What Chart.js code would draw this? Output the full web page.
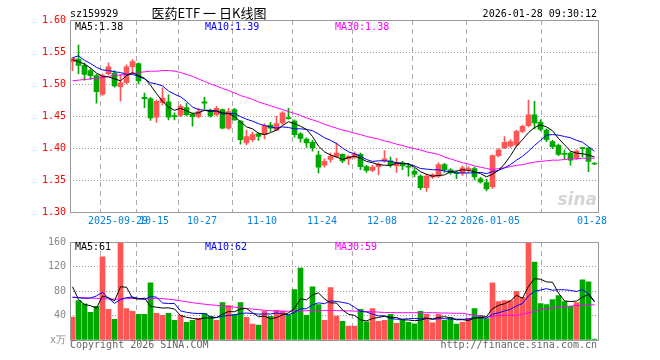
<!DOCTYPE html>
<html>
<head>
<meta charset="utf-8">
<script src="https://cdn.jsdelivr.net/npm/chart.js@4"></script>
<style>
html, body { margin: 0; padding: 0; background: #fff; }
#wrap { position: relative; width: 660px; height: 360px; }
#kline { position: absolute; left: 0; top: 0; }
#volume { position: absolute; left: 0; top: 232px; }
</style>
</head>
<body>
<div id="wrap">
  <canvas id="kline" width="660" height="232"></canvas>
  <canvas id="volume" width="660" height="128"></canvas>
</div>
<script>
// trading days shown on the daily K chart
var days = ["2025-09-17","2025-09-18","2025-09-19","2025-09-22","2025-09-23","2025-09-24","2025-09-25","2025-09-26","2025-09-29","2025-09-30",
  "2025-10-09","2025-10-10","2025-10-13","2025-10-14","2025-10-15","2025-10-16","2025-10-17","2025-10-20","2025-10-21","2025-10-22","2025-10-23","2025-10-24","2025-10-27","2025-10-28","2025-10-29","2025-10-30","2025-10-31",
  "2025-11-03","2025-11-04","2025-11-05","2025-11-06","2025-11-07","2025-11-10","2025-11-11","2025-11-12","2025-11-13","2025-11-14","2025-11-17","2025-11-18","2025-11-19","2025-11-20","2025-11-21","2025-11-24","2025-11-25","2025-11-26","2025-11-27","2025-11-28",
  "2025-12-01","2025-12-02","2025-12-03","2025-12-04","2025-12-05","2025-12-08","2025-12-09","2025-12-10","2025-12-11","2025-12-12","2025-12-15","2025-12-16","2025-12-17","2025-12-18","2025-12-19","2025-12-22","2025-12-23","2025-12-24","2025-12-25","2025-12-26","2025-12-29","2025-12-30","2025-12-31",
  "2026-01-05","2026-01-06","2026-01-07","2026-01-08","2026-01-09","2026-01-12","2026-01-13","2026-01-14","2026-01-15","2026-01-16","2026-01-19","2026-01-20","2026-01-21","2026-01-22","2026-01-23","2026-01-26","2026-01-27","2026-01-28"];

var open = [1.535,1.539,1.529,1.521,1.513,1.484,1.516,1.517,1.496,1.502,1.527,1.532,1.479,1.477,1.448,1.471,1.472,1.450,1.451,1.463,
  1.453,1.449,1.472,1.459,1.452,1.460,1.431,1.460,1.442,1.408,1.413,1.422,1.421,1.436,1.428,1.439,1.447,1.442,1.422,1.414,
  1.409,1.389,1.373,1.382,1.387,1.390,1.383,1.386,1.390,1.371,1.365,1.371,1.380,1.380,1.372,1.377,1.3705,1.364,1.356,1.338,
  1.355,1.356,1.374,1.366,1.3605,1.361,1.366,1.368,1.352,1.346,1.339,1.388,1.400,1.403,1.405,1.426,1.435,1.452,1.440,1.428,
  1.410,1.404,1.3905,1.392,1.384,1.3995,1.400,1.376];
var high = [1.541,1.561,1.533,1.524,1.515,1.516,1.533,1.521,1.515,1.530,1.538,1.533,1.486,1.479,1.475,1.494,1.483,1.455,1.468,1.470,
  1.455,1.462,1.479,1.461,1.465,1.461,1.462,1.462,1.443,1.428,1.425,1.424,1.438,1.440,1.450,1.457,1.462,1.444,1.424,1.416,
  1.412,1.395,1.383,1.392,1.408,1.391,1.388,1.394,1.392,1.373,1.373,1.377,1.396,1.386,1.384,1.379,1.376,1.368,1.358,1.359,
  1.360,1.377,1.376,1.368,1.364,1.372,1.371,1.370,1.354,1.351,1.389,1.399,1.418,1.413,1.428,1.436,1.475,1.473,1.444,1.430,
  1.412,1.406,1.397,1.394,1.397,1.401,1.401,1.377];
var low = [1.521,1.516,1.506,1.507,1.470,1.482,1.514,1.495,1.473,1.500,1.516,1.500,1.463,1.443,1.440,1.467,1.444,1.444,1.449,1.450,
  1.434,1.447,1.461,1.448,1.450,1.430,1.429,1.443,1.406,1.405,1.410,1.412,1.414,1.426,1.427,1.437,1.445,1.417,1.409,1.401,
  1.395,1.361,1.370,1.378,1.385,1.377,1.374,1.383,1.366,1.362,1.363,1.358,1.378,1.370,1.362,1.366,1.356,1.355,1.335,1.332,
  1.352,1.354,1.362,1.359,1.352,1.357,1.362,1.350,1.345,1.333,1.337,1.386,1.399,1.401,1.403,1.424,1.433,1.430,1.427,1.410,
  1.399,1.388,1.382,1.373,1.382,1.386,1.363,1.374];
var close = [1.540,1.529,1.515,1.513,1.488,1.513,1.527,1.497,1.502,1.527,1.535,1.505,1.477,1.447,1.473,1.478,1.448,1.449,1.465,1.452,
  1.449,1.457,1.470,1.450,1.462,1.431,1.457,1.444,1.413,1.418,1.421,1.418,1.435,1.431,1.438,1.455,1.446,1.421,1.415,1.408,
  1.400,1.370,1.379,1.387,1.392,1.380,1.387,1.391,1.371,1.365,1.370,1.375,1.383,1.373,1.377,1.372,1.370,1.359,1.338,1.356,
  1.358,1.374,1.366,1.361,1.360,1.369,1.368,1.355,1.347,1.336,1.388,1.397,1.409,1.410,1.426,1.434,1.452,1.439,1.429,1.413,
  1.402,1.390,1.390,1.381,1.395,1.399,1.379,1.375];

var ma5 = [1.538,1.535,1.531,1.525,1.517,1.512,1.511,1.508,1.505,1.513,1.518,1.513,1.509,1.498,1.485,1.473,1.464,1.459,1.462,1.458,
  1.454,1.455,1.459,1.457,1.458,1.455,1.454,1.449,1.441,1.433,1.430,1.423,1.421,1.424,1.428,1.435,1.441,1.438,1.434,1.429,
  1.418,1.403,1.394,1.389,1.386,1.382,1.385,1.387,1.384,1.379,1.377,1.374,1.373,1.373,1.376,1.376,1.375,1.370,1.363,1.359,
  1.356,1.357,1.358,1.363,1.364,1.366,1.365,1.363,1.360,1.355,1.359,1.365,1.375,1.388,1.403,1.413,1.424,1.432,1.436,1.433,
  1.427,1.415,1.405,1.395,1.392,1.391,1.389,1.386];
var ma10 = [1.541,1.544,1.537,1.532,1.526,1.522,1.521,1.519,1.518,1.515,1.515,1.512,1.508,1.502,1.500,1.497,1.489,1.484,1.480,1.473,
  1.464,1.460,1.459,1.459,1.458,1.453,1.454,1.454,1.449,1.445,1.442,1.438,1.435,1.433,1.431,1.433,1.432,1.430,1.430,1.429,
  1.427,1.422,1.416,1.412,1.407,1.400,1.394,1.391,1.387,1.382,1.379,1.380,1.380,1.379,1.377,1.376,1.375,1.372,1.368,1.367,
  1.366,1.366,1.364,1.363,1.361,1.361,1.361,1.361,1.362,1.360,1.363,1.365,1.369,1.374,1.381,1.387,1.395,1.404,1.412,1.420,
  1.421,1.420,1.418,1.416,1.412,1.409,1.402,1.395];
var ma30 = [1.505,1.506,1.507,1.508,1.509,1.510,1.512,1.513,1.514,1.515,1.516,1.518,1.519,1.520,1.520,1.521,1.521,1.520,1.518,1.515,
  1.512,1.508,1.504,1.500,1.497,1.493,1.490,1.486,1.482,1.479,1.476,1.472,1.469,1.466,1.463,1.460,1.457,1.454,1.451,1.447,
  1.444,1.441,1.437,1.434,1.431,1.428,1.426,1.423,1.421,1.418,1.416,1.414,1.411,1.409,1.406,1.404,1.401,1.399,1.397,1.394,
  1.392,1.390,1.386,1.383,1.380,1.377,1.375,1.372,1.370,1.368,1.366,1.368,1.369,1.371,1.373,1.374,1.376,1.378,1.379,1.380,
  1.381,1.381,1.382,1.383,1.383,1.384,1.384,1.384];

// volume, in 10k lots
var vol = [37.5,64.4,59,45,54.8,135.8,50,33.8,160,51.5,46.7,41.9,41.9,93.4,43.5,40.3,43.5,32.2,40.3,29,
  32.2,35.4,43.5,38.7,32.2,61.2,56.4,41.9,61.2,37,25.8,24.2,46.7,38.7,48.3,46.7,41,82.2,117.6,40.3,
  87,58,32.2,85.4,39.2,30.6,22.6,22.6,50,29.5,51.5,30.6,32.2,41.9,27.4,32.7,29,26.3,46.7,41.9,
  27.9,41.9,32.2,37,25.8,29,35.4,51.5,40.3,35,93.4,62.8,64.4,64.4,79.4,69.8,159,127.3,59.6,58,
  66,72.5,62.8,54.8,61.2,98.3,95,1.6];
var vma5 = [87,66,58,56,52.1,71.8,68.9,63.9,86.9,86.2,68.4,66.8,68.4,55.1,53.5,52.2,52.5,50.6,40,37.1,
  35.4,33.8,36.1,35.8,36.4,42.2,46.4,46.1,50.6,51.5,44.5,38,39,34.5,36.7,40.9,44.3,51.4,67.2,65.6,
  73.6,77,67,60.6,60.4,49.1,42,40.1,33,31.1,35.2,36.8,38.8,37.1,36.7,33,32.6,31.5,32.4,35.3,
  34.4,36.9,38.1,36.2,33,33.2,31.9,35.7,36.4,38.2,51.1,56.6,59.2,64,72.9,68.2,87.6,100.2,99.2,94.9,
  94.2,76.7,63.8,62.8,63.5,69.9,74.4,62.2];
var vma10 = [69.8,69,68,68.5,72,78,68,60,66,69.2,70.1,67.9,66.1,71,69.9,60.3,59.7,59.5,47.5,45.3,
  43.8,43.2,43.3,37.9,36.7,38.8,40.1,41.1,43.2,44,43.3,42.2,42.5,42.5,44.1,42.7,41.2,45.2,50.8,51.2,
  57.3,60.7,59.2,63.9,63,61.4,59.5,53.6,46.8,45.7,42.2,39.4,39.4,35.1,33.9,34.1,34.7,35.1,34.8,36,
  33.7,34.8,34.8,34.3,34.1,33.8,34.4,36.9,36.3,35.6,42.2,44.2,47.5,50.2,55.6,59.6,72.1,79.7,81.6,83.9,
  81.2,82.1,82,81,79.2,82.1,75.6,63];
var vma30 = [69.8,69.5,69,68.5,68,67.5,67,66.5,67,67.5,68,67.5,67,67.5,68,67.5,66.5,65.5,64,62.5,
  61,59.5,58.5,57.5,56.5,55.5,54.5,53.7,52.5,51.5,50.5,49.5,48.5,48,47.5,47.2,47,47,47.5,47.8,
  48.2,48.3,48.3,48.3,48,47.8,47.5,47.2,47,46.5,46,45.5,45,44.8,44.6,44.6,44.6,44.6,44.6,44.6,
  44.5,44.3,44,43.8,43.6,43.5,42,40.3,39,37.6,38.5,40.3,40.3,40.3,40.3,42,44.6,46.5,50,51,
  52,53.7,54.5,55.3,56.4,56.8,57.2,57.5];

var priceTicks = [1.30, 1.35, 1.40, 1.45, 1.50, 1.55, 1.60];
var volTicks = [0, 40, 80, 120, 160];
var dateTicks = ["2025-09-29","2025-10-15","2025-10-27","2025-11-10","2025-11-24","2025-12-08","2025-12-22","2026-01-05","2026-01-28"];
var dateText = ["2025-09-29","10-15","10-27","11-10","11-24","12-08","12-22","2026-01-05","01-28"];
var maNow = ["1.38", "1.39", "1.38"];
var vmaNow = ["61", "62", "59"];

var RED = "#ff5555";
var GREEN = "#00a800";
var MONO = "DejaVu Sans Mono";

Chart.defaults.font.family = MONO;
Chart.defaults.font.size = 10;

var half = 2.5 / 6; // half a candle, in days
var xMin = -half;
var xMax = days.length - 1 + 0.5;

function isUp(i) { return close[i] >= open[i]; }
function candleColor(ctx) { return isUp(ctx.dataIndex) ? RED : GREEN; }
function pts(arr) { return arr.map(function (v, i) { return { x: i, y: v }; }); }

function maLine(arr, color) {
  return { type: "line", data: pts(arr), borderColor: color, borderWidth: 1,
    pointRadius: 0, tension: 0, fill: false, order: 0 };
}

function xAxis(showLabels) {
  return {
    type: "linear", min: xMin, max: xMax, offset: false,
    afterBuildTicks: function (s) {
      s.ticks = dateTicks.map(function (d) { return { value: days.indexOf(d) - half }; });
    },
    afterFit: function (s) { s.height = 20; },
    grid: { color: "#aaaaaa", drawTicks: false },
    border: { display: false, dash: [5, 4] },
    ticks: { display: showLabels, autoSkip: false, maxRotation: 0, minRotation: 0,
      padding: 3, color: "#0a80d8",
      callback: function (v, i) { return dateText[i]; } }
  };
}

var frame = {
  id: "frame",
  afterDatasetsDraw: function (chart) {
    var a = chart.chartArea, c = chart.ctx;
    c.save();
    c.strokeStyle = "#999999";
    c.lineWidth = 1;
    c.strokeRect(Math.round(a.left) + 0.5, Math.round(a.top) + 0.5,
      Math.round(a.right - a.left), Math.round(a.bottom - a.top));
    c.restore();
  }
};

var kTexts = {
  id: "kTexts",
  beforeDatasetsDraw: function (chart) {
    // faint sina watermark, bottom right of the price panel
    var c = chart.ctx;
    c.save();
    c.font = "italic bold 17px 'DejaVu Sans'";
    c.fillStyle = "rgba(150,150,150,0.4)";
    c.textAlign = "right";
    c.fillText("sina", 597, 205);
    c.restore();
  },
  afterDraw: function (chart) {
    var c = chart.ctx;
    c.save();
    c.textBaseline = "alphabetic";
    c.font = "10px '" + MONO + "'";
    c.fillStyle = "#000";
    c.textAlign = "left";
    c.fillText("sz159929", 70, 17);
    c.textAlign = "right";
    c.fillText("2026-01-28 09:30:12", 597, 17);
    c.font = "13px 'Noto Sans CJK SC'";
    c.textAlign = "center";
    c.fillText("医药ETF 一 日K线图", 209, 17.5);
    c.font = "10px '" + MONO + "'";
    c.textAlign = "left";
    c.fillStyle = "#000";
    c.fillText("MA5:" + maNow[0], 75, 29.5);
    c.fillStyle = "#0000ff";
    c.fillText("MA10:" + maNow[1], 205, 29.5);
    c.fillStyle = "#ff00ff";
    c.fillText("MA30:" + maNow[2], 335, 29.5);
    c.restore();
  }
};

var vTexts = {
  id: "vTexts",
  afterDraw: function (chart) {
    var c = chart.ctx;
    c.save();
    c.textBaseline = "alphabetic";
    c.font = "10px '" + MONO + "'";
    c.textAlign = "left";
    c.fillStyle = "#000";
    c.fillText("MA5:" + vmaNow[0], 75, 18);
    c.fillStyle = "#0000ff";
    c.fillText("MA10:" + vmaNow[1], 205, 18);
    c.fillStyle = "#ff00ff";
    c.fillText("MA30:" + vmaNow[2], 335, 18);
    c.fillStyle = "#666666";
    c.fillText("Copyright 2026 SINA.COM", 70, 116);
    c.textAlign = "right";
    c.fillText("http://finance.sina.com.cn", 597, 116);
    c.restore();
  }
};

new Chart(document.getElementById("kline"), {
  type: "bar",
  data: {
    datasets: [
      maLine(ma5, "#000000"),
      maLine(ma10, "#0000ff"),
      maLine(ma30, "#ff00ff"),
      { data: close.map(function (c, i) { return { x: i, y: [Math.min(open[i], c), Math.max(open[i], c)] }; }),
        backgroundColor: candleColor, barThickness: 5, minBarLength: 1, grouped: false, order: 1 },
      { data: close.map(function (c, i) { return { x: i, y: [low[i], high[i]] }; }),
        backgroundColor: candleColor, barThickness: 1, grouped: false, order: 2 }
    ]
  },
  options: {
    responsive: false,
    animation: false,
    events: [],
    layout: { padding: { left: 0, right: 62.5, top: 20, bottom: 0 } },
    plugins: { legend: { display: false }, tooltip: { enabled: false } },
    scales: {
      x: xAxis(true),
      y: {
        min: 1.30, max: 1.60,
        afterBuildTicks: function (s) { s.ticks = priceTicks.map(function (v) { return { value: v }; }); },
        afterFit: function (s) { s.width = 70; },
        grid: { color: "#999999", drawTicks: false },
        border: { display: false, dash: [1, 2] },
        ticks: { color: "#ff0000", padding: 4, callback: function (v) { return v.toFixed(2); } }
      }
    }
  },
  plugins: [frame, kTexts]
});

new Chart(document.getElementById("volume"), {
  type: "bar",
  data: {
    datasets: [
      maLine(vma5, "#000000"),
      maLine(vma10, "#0000ff"),
      maLine(vma30, "#ff00ff"),
      { data: pts(vol), backgroundColor: candleColor, barThickness: 5, grouped: false, order: 1 }
    ]
  },
  options: {
    responsive: false,
    animation: false,
    events: [],
    layout: { padding: { left: 0, right: 62.5, top: 9, bottom: 0 } },
    plugins: { legend: { display: false }, tooltip: { enabled: false } },
    scales: {
      x: xAxis(false),
      y: {
        min: 0, max: 160,
        afterBuildTicks: function (s) { s.ticks = volTicks.map(function (v) { return { value: v }; }); },
        afterFit: function (s) { s.width = 70; },
        grid: { color: "#999999", drawTicks: false },
        border: { display: false, dash: [1, 2] },
        ticks: { color: "#888888", padding: 4, callback: function (v) { return v === 0 ? "x万" : String(v); } }
      }
    }
  },
  plugins: [frame, vTexts]
});
</script>
</body>
</html>
